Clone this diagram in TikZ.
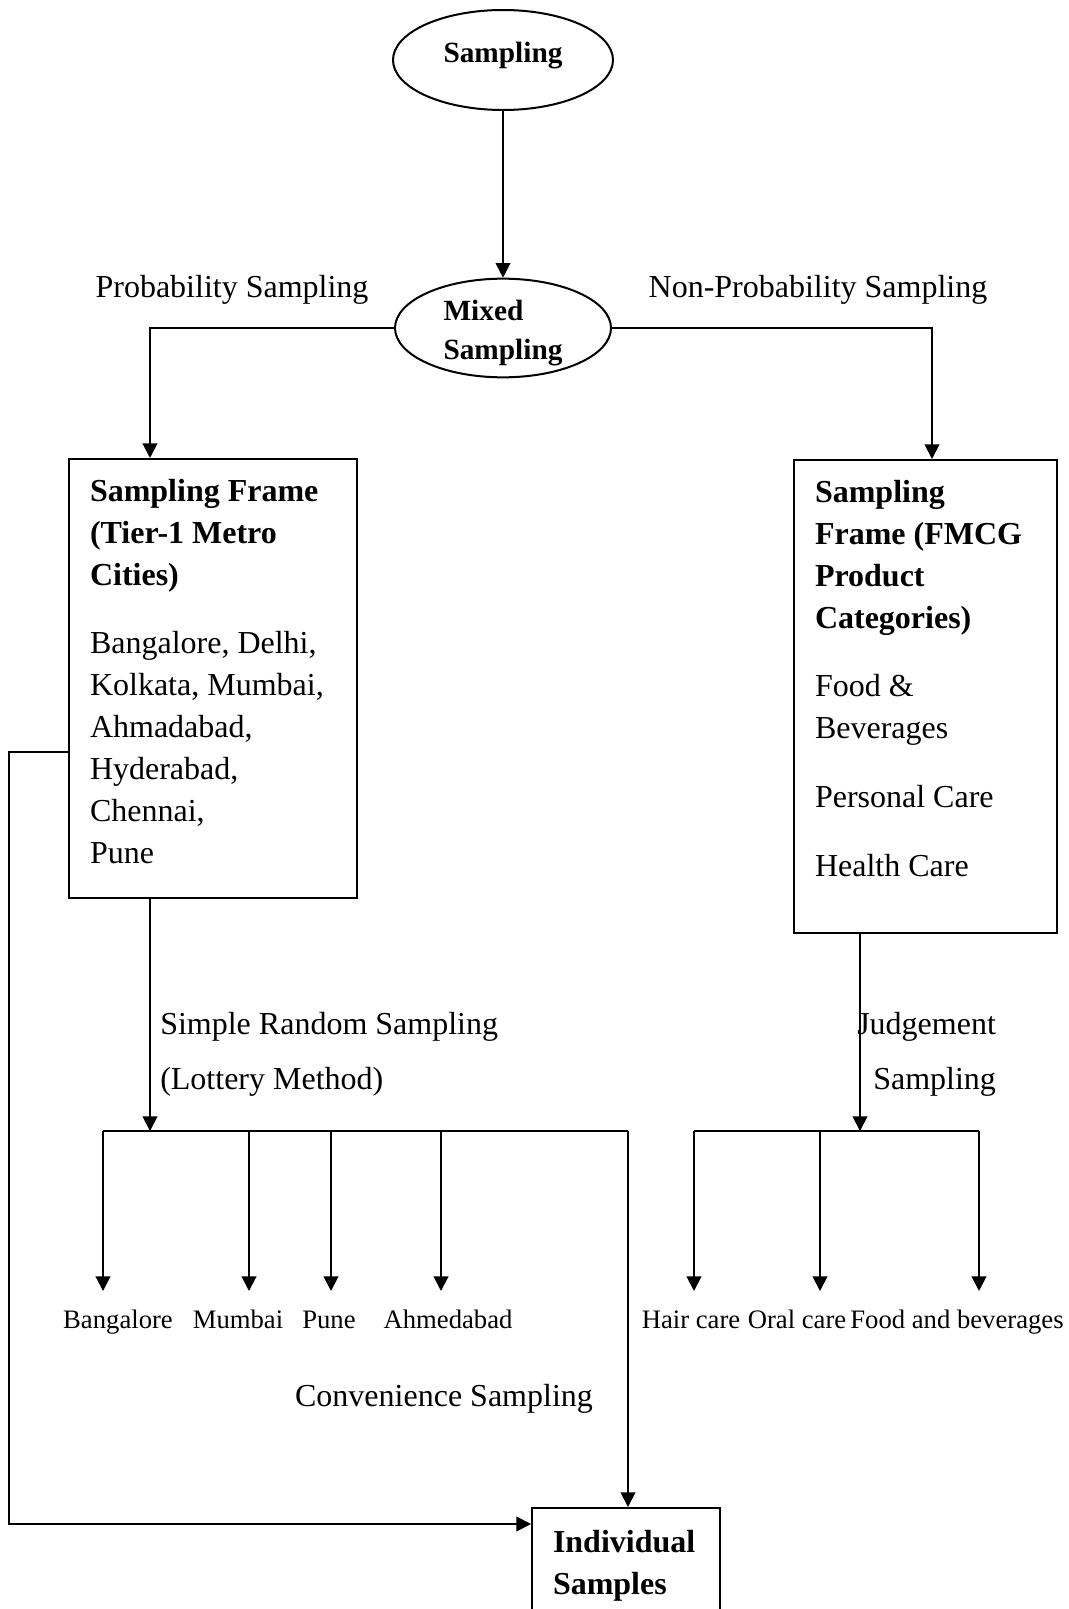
\documentclass[tikz,border=0pt]{standalone}
\usepackage{fontspec}
\setmainfont{Liberation Serif}
\usetikzlibrary{arrows.meta,shapes.geometric}

\begin{document}
\begin{tikzpicture}[x=0.75pt,y=0.75pt]
    \tikzset{
        oval/.style={draw, ellipse, line width=1.5pt, inner sep=0pt,
            minimum width=165pt, minimum height=75pt, align=left,
            font=\fontsize{22}{29}\selectfont\bfseries},
        frame/.style={draw, line width=1.5pt, inner xsep=15.75pt, inner ysep=0pt,
            anchor=north west, font=\fontsize{24}{31.5}\selectfont},
        lbl/.style={inner sep=0pt, font=\fontsize{24}{31.5}\selectfont},
        city/.style={anchor=north, inner xsep=0pt, inner ysep=14pt,
            text height=14pt, text depth=4pt, font=\fontsize{20}{24}\selectfont},
        link/.style={line width=1.5pt},
        arr/.style={link, -{Triangle[width=11pt,length=11pt]}}
    }
    \useasboundingbox (0,0) rectangle (1069,-1609);

    % top
    \node[oval, text depth=12pt] (samp) at (503,-60) {Sampling};
    \node[oval, minimum width=162pt, minimum height=74pt, text height=51.5pt,
        inner ysep=-5pt] (mix) at (503,-328) {Mixed\\Sampling};
    \node[lbl] (prob) at (232,-290) {Probability Sampling};
    \node[lbl] (nonp) at (818,-290) {Non-Probability Sampling};
    \draw[arr] (samp) -- (mix);

    % sampling frames
    \node[frame] (lbox) at (68,-458) {\parbox[t][329pt][t]{184.5pt}{\raggedright
        \rule{0pt}{31.5pt}\textbf{Sampling Frame\\(Tier-1 Metro\\Cities)}\\[20pt]
        Bangalore, Delhi,\\Kolkata, Mumbai,\\Ahmadabad,\\Hyderabad,\\Chennai,\\Pune}};
    \node[frame] (rbox) at (793,-459) {\parbox[t][354.75pt][t]{165.75pt}{\raggedright
        \rule{0pt}{31.5pt}\textbf{Sampling\\Frame (FMCG\\Product\\Categories)}\\[20pt]
        Food \&\\Beverages\\[20pt]Personal Care\\[20pt]Health Care}};
    \coordinate (lin) at (150,-458);
    \coordinate (rin) at (932,-459);
    \draw[arr] (mix.west) -| (lin);
    \draw[arr] (mix.east) -| (rin);

    % left branch
    \node[lbl, anchor=west] (srs) at (160,-1027) {Simple Random Sampling};
    \node[lbl, anchor=west] (lot) at (160,-1082) {(Lottery Method)};
    \node[city] (bang) at (118,-1291) {Bangalore};
    \node[city] (mumb) at (238,-1291) {Mumbai};
    \node[city] (pune) at (329,-1291) {Pune};
    \node[city] (ahmd) at (448,-1291) {Ahmedabad};
    \coordinate (lbar) at (150,-1131);
    \coordinate (d1) at (103,-1131);
    \coordinate (d2) at (249,-1131);
    \coordinate (d3) at (331,-1131);
    \coordinate (d4) at (441,-1131);
    \coordinate (d5) at (628,-1131);
    \draw[arr] (lin |- lbox.south) -- (lbar);
    \draw[link] (d1) -- (d5);
    \foreach \d/\n in {d1/bang, d2/mumb, d3/pune, d4/ahmd}
        \draw[arr] (\d) -- (\d |- \n.north);

    % right branch
    \node[lbl, anchor=west] (judg) at (857,-1027) {Judgement};
    \node[lbl, anchor=west] (juds) at (873,-1082) {Sampling};
    \node[city] (hair) at (691,-1291) {Hair care};
    \node[city] (oral) at (797,-1291) {Oral care};
    \node[city] (food) at (957,-1291) {Food and beverages};
    \coordinate (rbar) at (860,-1131);
    \coordinate (e1) at (694,-1131);
    \coordinate (e2) at (820,-1131);
    \coordinate (e3) at (979,-1131);
    \draw[arr] (rbar |- rbox.south) -- (rbar);
    \draw[link] (e1) -- (e3);
    \foreach \d/\n in {e1/hair, e2/oral, e3/food}
        \draw[arr] (\d) -- (\d |- \n.north);

    % individual samples
    \node[lbl] (conv) at (444,-1399) {Convenience Sampling};
    \node[frame] (indiv) at (531,-1507) {\parbox[t][78.75pt][t]{109.5pt}{\raggedright
        \rule{0pt}{33pt}\textbf{Individual\\Samples}}};
    \coordinate (lpa) at (9,-752);
    \coordinate (lpb) at (9,-1524);
    \draw[arr] (d5) -- (d5 |- indiv.north);
    \draw[arr] (lbox.west |- lpa) -- (lpa) -- (lpb) -- (lpb -| indiv.west);

\end{tikzpicture}
\end{document}
